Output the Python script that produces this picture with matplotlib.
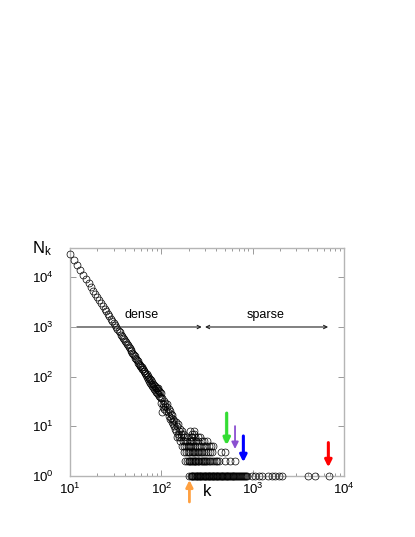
import numpy as np
import matplotlib
matplotlib.use("Agg")
import matplotlib.pyplot as plt
from matplotlib.ticker import LogLocator, NullLocator

plt.rcParams["font.family"] = ["Liberation Sans", "DejaVu Sans"]
plt.rcParams["mathtext.default"] = "regular"

# N_k for k = 10..99, one point per degree
k_low = np.arange(10, 100)
n_low = [30000, 22700, 17600, 13900, 11200, 9200, 7600, 6400, 5400, 4600,
         3950, 3450, 3000, 2650, 2320, 2080, 1830, 1660, 1470, 1350,
         1200, 1110, 990, 930, 830, 780, 700, 665, 600, 570,
         515, 490, 448, 425, 392, 372, 342, 328, 302, 290,
         268, 256, 238, 230, 212, 206, 192, 184, 172, 166,
         155, 158, 142, 144, 128, 132, 116, 121, 106, 112,
         97, 102, 90, 95, 82, 88, 76, 84, 70, 78,
         66, 72, 61, 68, 57, 64, 53, 60, 50, 58,
         46, 55, 44, 60, 41, 52, 39, 50, 37, 46]

# N_k for 100 <= k < 200 (only the degrees that occur)
k_mid = [100, 101, 102, 104, 105, 107, 108, 110, 111, 113, 115, 116, 118, 120,
         121, 123, 125, 127, 128, 130, 132, 134, 135, 137, 139, 141, 143, 145,
         147, 149, 151, 153, 155, 157, 159, 161, 163, 165, 167, 169, 171, 173,
         175, 177, 179, 181, 183, 185, 187, 189, 191, 193, 195, 197, 199]
n_mid = [30, 19, 38, 28, 25, 33, 22, 26, 30, 20, 24, 28, 19, 22,
         16, 20, 14, 18, 15, 12, 17, 11, 14, 10, 13, 9, 12, 8,
         6, 10, 7, 11, 6, 8, 9, 5, 7, 6, 4, 8, 5, 7,
         4, 3, 6, 5, 2, 4, 3, 6, 2, 5, 3, 4, 2]

# k >= 200, grouped by the (small) value of N_k
k_n1 = [202, 210, 215, 219, 224, 229, 233, 238, 243, 247, 252, 258, 263, 268,
        274, 279, 285, 291, 297, 303, 309, 316, 322, 329, 336, 343, 350, 357,
        364, 372, 380, 388, 396, 404, 412, 421, 430, 439, 448, 457, 467, 477,
        487, 497, 508, 519, 530, 541, 553, 565, 577, 590, 603, 616, 630, 645,
        660, 676, 692, 708, 725, 742, 760, 778, 797, 816, 836, 858,
        978, 1065, 1160, 1254, 1487, 1620, 1765, 1920, 2090, 4060, 4820, 6780]
k_n2 = [201, 205, 211, 217, 222, 226, 231, 236, 241, 249, 255, 261, 270, 277,
        284, 293, 300, 311, 320, 333, 345, 360, 375, 392, 410, 428, 500, 570, 640]
k_n3 = [203, 208, 214, 221, 228, 235, 244, 251, 260, 271, 282, 296, 310, 326,
        340, 355, 455, 497]
k_n4 = [200, 207, 213, 220, 232, 245, 257, 272, 290, 305, 330, 350, 372]
k_n5 = [204, 212, 225, 240, 254, 276, 295, 315]
k_n6 = [209, 218, 234, 250, 265]
k_n7 = [216, 230]
k_n8 = [206, 227]

k_all = np.concatenate([k_low, k_mid, k_n1, k_n2, k_n3, k_n4, k_n5, k_n6, k_n7, k_n8])
n_all = np.concatenate([n_low, n_mid, np.full(len(k_n1), 1), np.full(len(k_n2), 2),
                        np.full(len(k_n3), 3), np.full(len(k_n4), 4), np.full(len(k_n5), 5),
                        np.full(len(k_n6), 6), np.full(len(k_n7), 7), np.full(len(k_n8), 8)])

# arrows: (k, N tail, N tip, colour, width)
marks = [(520, 18.5, 4.2, "#33dd33", 2.2),
         (641, 10.1, 3.5, "#8a4fd0", 1.3),
         (791, 6.4, 1.9, "#0000ff", 2.2),
         (6740, 4.7, 1.5, "#ff0000", 2.2)]

fig = plt.figure(figsize=(4.15, 5.37), dpi=100)
ax = fig.add_axes([70 / 415, 1 - 476 / 537, 274 / 415, 228.3 / 537])

ax.plot(k_all, n_all, "o", mfc="none", mec="black", ms=5.0, mew=0.5, clip_on=False, zorder=3)

ax.set_xscale("log")
ax.set_yscale("log")
ax.set_xlim(10, 1e4)
ax.set_ylim(1, 3.95e4)
ax.xaxis.set_major_locator(LogLocator(base=10, numticks=10))
ax.xaxis.set_minor_locator(LogLocator(base=10, subs=np.arange(2, 10), numticks=10))
ax.yaxis.set_major_locator(LogLocator(base=10, numticks=10))
ax.yaxis.set_minor_locator(NullLocator())

for s in ax.spines.values():
    s.set_color("#b5b5b5")
    s.set_linewidth(1.0)
ax.tick_params(which="both", direction="in", top=True, right=True, color="#9a9a9a",
               labelsize=9.5, width=0.7)
ax.tick_params(which="major", length=4)
ax.tick_params(which="minor", length=2)
ax.tick_params(axis="y", pad=12)
ax.tick_params(axis="x", pad=4)

# dense / sparse regions
ax.annotate("", xy=(277, 1000), xytext=(11.9, 1000),
            arrowprops=dict(arrowstyle="->", color="#222222", lw=0.8, mutation_scale=6,
                            shrinkA=0, shrinkB=0))
ax.annotate("", xy=(6700, 1000), xytext=(301, 1000),
            arrowprops=dict(arrowstyle="<->", color="#222222", lw=0.8, mutation_scale=6,
                            shrinkA=0, shrinkB=0))
ax.text(61, 1300, "dense", ha="center", va="bottom", fontsize=9)
ax.text(1370, 1300, "sparse", ha="center", va="bottom", fontsize=9)

ax.annotate("", xy=(505, 4.4), xytext=(505, 18.5),
            arrowprops=dict(arrowstyle="-|>", color="#a0f0a0", lw=1.0, mutation_scale=8,
                            shrinkA=0, shrinkB=0))
for kx, n0, n1, c, w in marks:
    ax.annotate("", xy=(kx, n1), xytext=(kx, n0),
                arrowprops=dict(arrowstyle="-|>", color=c, lw=w, mutation_scale=10,
                                shrinkA=0, shrinkB=0))
ax.annotate("", xy=(203, 0.83), xytext=(203, 0.30), annotation_clip=False,
            arrowprops=dict(arrowstyle="-|>", color="#ffa040", lw=2.0, mutation_scale=10,
                            shrinkA=0, shrinkB=0))

fig.text(207 / 415, 1 - 491 / 537, "k", ha="center", va="center", fontsize=12)
fig.text(32 / 415, 1 - 249 / 537, "N$_k$", ha="left", va="center", fontsize=12)

fig.savefig("out.png", dpi=100)
